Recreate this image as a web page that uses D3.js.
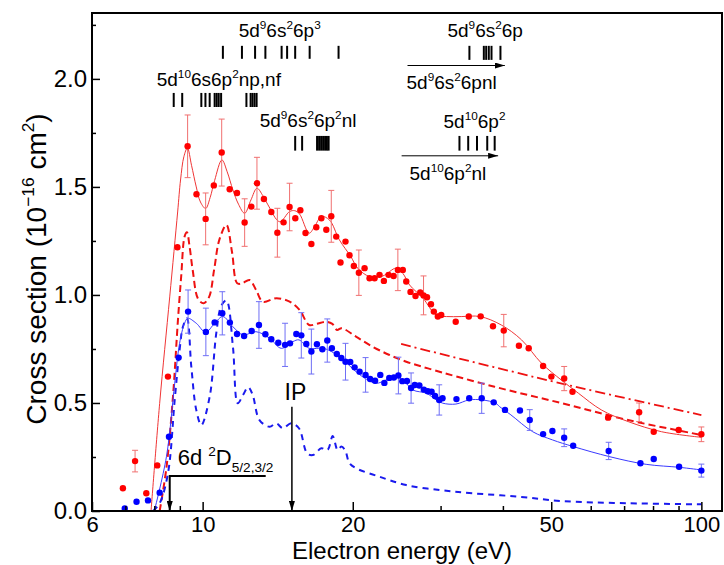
<!DOCTYPE html>
<html>
<head>
<meta charset="utf-8">
<script src="https://cdn.jsdelivr.net/npm/d3@7"></script>
<style>
body { margin: 0; background: #fff; }
svg { display: block; }
text { font-family: "Liberation Sans", Arial, sans-serif; fill: #000; }
</style>
</head>
<body>
<svg id="chart" width="724" height="565"></svg>
<script>
// measured points: [energy eV, cross section, error bar (0 = none)]
const redPts = [
  [6.92,0.105,0],[7.32,0.231,0.05],[7.71,0.082,0],[8.11,0.211,0],[8.52,0.622,0],
  [8.90,1.221,0],[9.33,1.688,0.145],[9.72,1.466,0],[10.14,1.352,0.12],[10.53,1.507,0],
  [10.92,1.659,0.155],[11.33,1.489,0],[11.72,1.472,0],[12.14,1.335,0.11],[12.52,1.409,0],
  [12.85,1.517,0.12],[13.27,1.444,0],[13.73,1.384,0],[14.12,1.288,0.113],[14.53,1.336,0],
  [14.94,1.407,0.11],[15.34,1.355,0],[15.70,1.392,0],[16.08,1.287,0],[16.52,1.236,0],
  [16.90,1.313,0],[17.30,1.355,0],[17.70,1.302,0],[18.11,1.364,0.12],[18.53,1.270,0],
  [18.90,1.150,0],[19.34,1.247,0],[19.70,1.184,0],[20.10,1.134,0],[20.57,1.103,0.105],
  [21.12,1.124,0],[21.61,1.077,0],[22.12,1.077,0],[22.63,1.093,0],[23.09,1.065,0],
  [23.59,1.093,0],[24.15,1.088,0],[24.63,1.116,0.096],[25.20,1.116,0],[25.60,1.062,0],
  [26.11,1.014,0],[26.72,0.995,0],[27.31,1.011,0],[27.73,0.998,0.09],[28.18,0.989,0],
  [28.70,0.957,0],[29.08,0.923,0],[29.62,0.900,0],[30.09,0.907,0],[32.17,0.876,0],
  [34.17,0.900,0],[36.10,0.901,0],[38.21,0.855,0],[40.16,0.835,0.075],[43.07,0.765,0],
  [45.06,0.753,0],[48.16,0.671,0],[50.04,0.622,0],[53.08,0.613,0.056],[55.16,0.552,0],
  [65.01,0.432,0],[75.03,0.457,0.043],[80.26,0.367,0],[90.06,0.375,0],[100,0.355,0.034]
];
const bluePts = [
  [6.98,0.012,0],[7.37,0.043,0],[7.77,0.049,0],[8.20,0.085,0],[8.56,0.344,0],
  [8.95,0.710,0],[9.35,0.923,0.1],[10.15,0.829,0.11],[10.57,0.873,0],[10.95,0.915,0.1],
  [11.34,0.872,0],[11.72,0.819,0],[12.11,0.810,0],[12.54,0.833,0],[12.97,0.861,0.108],
  [13.36,0.818,0],[13.73,0.795,0],[14.18,0.779,0],[14.63,0.769,0.1],[14.97,0.776,0],
  [15.41,0.819,0],[15.77,0.813,0.105],[16.14,0.773,0],[16.52,0.738,0.104],[16.95,0.772,0],
  [17.38,0.749,0],[17.78,0.789,0.1],[18.16,0.753,0],[18.58,0.727,0],[18.97,0.708,0],
  [19.34,0.691,0.085],[19.77,0.690,0],[20.17,0.665,0],[20.64,0.645,0],[21.22,0.630,0.08],
  [21.67,0.611,0],[22.17,0.603,0],[22.71,0.630,0],[23.14,0.593,0],[23.67,0.616,0],
  [24.18,0.618,0],[24.69,0.627,0.085],[25.14,0.601,0],[25.68,0.602,0],[26.18,0.569,0.07],
  [26.63,0.583,0],[27.20,0.581,0],[27.77,0.562,0],[28.28,0.554,0],[28.78,0.552,0],
  [29.24,0.532,0],[29.81,0.514,0.07],[30.27,0.522,0],[32.28,0.518,0],[34.24,0.522,0],
  [36.27,0.522,0.07],[38.34,0.503,0],[40.39,0.468,0],[43.28,0.465,0],[45.28,0.421,0.048],
  [48.16,0.356,0],[50.27,0.370,0],[53.08,0.339,0.041],[55.33,0.302,0],[65.19,0.278,0.04],
  [75.48,0.221,0],[80.26,0.241,0],[90.23,0.205,0],[100,0.187,0.03]
];
// fitted / calculated curves: [energy, cross section]
const redFit = [
  [7.88,0],[8.2,0.498],[8.59,0.991],[8.91,1.384],[9.03,1.532],[9.17,1.64],[9.32,1.68],
  [9.5,1.6],[9.71,1.50],[9.9,1.43],[10.14,1.40],[10.35,1.45],[10.57,1.53],[10.93,1.625],
  [11.2,1.57],[11.5,1.486],[11.8,1.42],[12.14,1.378],[12.5,1.44],[12.85,1.494],[13.2,1.46],
  [13.52,1.417],[14.27,1.339],[14.94,1.386],[15.3,1.39],[15.64,1.375],[16.35,1.286],
  [16.8,1.32],[17.3,1.363],[17.96,1.347],[18.8,1.255],[19.83,1.177],[20.46,1.124],
  [21.61,1.085],[22.98,1.088],[24.43,1.124],[25.2,1.10],[26.0,1.046],[27.66,0.985],
  [29.39,0.907],[30.83,0.90],[33,0.90],[36,0.90],[39.7,0.861],[43.6,0.792],[47.8,0.684],
  [52.4,0.606],[56.7,0.545],[63.0,0.468],[71.3,0.414],[83.2,0.367],[100,0.341]
];
const redCalc = [
  [8.2,0],[8.46,0.2],[8.72,0.53],[8.92,0.88],[9.06,1.09],[9.2,1.27],[9.30,1.29],[9.42,1.22],
  [9.55,1.116],[9.80,0.98],[10.05,0.962],[10.3,0.99],[10.55,1.12],[10.8,1.255],[11.16,1.324],
  [11.45,1.2],[11.73,1.054],[12.0,1.054],[12.42,1.069],[12.8,1.023],[13.2,0.969],[14.07,0.985],
  [14.94,0.969],[15.64,0.931],[16.35,0.861],[16.9,0.866],[17.7,0.876],[18.2,0.866],[18.6,0.838],
  [19.0,0.846],[20.3,0.807],[21.9,0.761],[23.7,0.722],[25.6,0.691],[28.3,0.660],[38.5,0.575],
  [52.5,0.499],[71.3,0.421],[100,0.352]
];
const redCalcHigh = [[25,0.773],[52,0.592],[100,0.444]];
const blueFit = [
  [8.0,0],[8.46,0.251],[8.79,0.591],[8.99,0.776],[9.2,0.869],[9.34,0.892],[9.71,0.869],
  [10.14,0.827],[10.57,0.869],[10.98,0.9],[11.5,0.853],[12.05,0.815],[12.79,0.830],
  [13.62,0.80],[14.38,0.753],[15.17,0.784],[15.6,0.792],[16.35,0.753],[17.5,0.753],
  [18.8,0.714],[20.3,0.645],[21.3,0.610],[22.3,0.591],[23.3,0.606],[24.4,0.622],[25.4,0.599],
  [26.4,0.560],[28.1,0.545],[29.4,0.514],[30.3,0.499],[32.2,0.495],[34.2,0.514],[36.4,0.514],
  [38.7,0.499],[39.4,0.483],[41.5,0.445],[45.9,0.367],[50.3,0.329],[55.4,0.298],[65.6,0.251],
  [77.5,0.216],[90.5,0.202],[100,0.190]
];
const blueCalc = [
  [7.95,0],[8.2,0.036],[8.52,0.174],[8.79,0.514],[8.99,0.745],[9.13,0.853],[9.30,0.892],
  [9.49,0.668],[9.71,0.468],[9.94,0.398],[10.33,0.529],[10.65,0.823],[10.9,0.95],[11.16,0.974],
  [11.5,0.761],[11.76,0.499],[12.05,0.537],[12.34,0.573],[12.6,0.537],[13.0,0.421],[13.62,0.390],
  [14.05,0.406],[14.48,0.383],[15.05,0.406],[15.6,0.383],[16.2,0.267],[16.63,0.259],[17.3,0.290],
  [17.8,0.282],[18.23,0.347],[18.65,0.282],[18.97,0.298],[19.3,0.282],[19.7,0.221],[20.3,0.198],
  [22.6,0.159],[25.6,0.120],[29.9,0.097],[34.8,0.082],[43.2,0.066],[52.5,0.046],[71,0.036],[100,0.031]
];
// energy levels (eV)
const lv6p3 = [10.98,11.99,12.74,13.36,14.40,14.77,15.33,16.39,18.73];
const lvNpNf = [8.75,9.10,9.94,10.13,10.33,10.57,10.67,10.77,10.89,12.24,12.48,12.59,12.71,12.83];
const lv6p2nl = [15.33,15.83,16.96,17.12,17.28,17.44,17.6,17.75,17.89];
const lv6s26p = [34.27,36.63,37.03,37.48,37.95,39.55];
const lv6p2 = [32.73,34.08,35.49,37.21,38.51];
const ipEnergy = 15.1, d6Energy = 8.59;
const xMajor = [6,10,20,50,100], xMinor = [7,8,9,30,40,60,70,80,90];
const yMajor = [0,0.5,1,1.5,2], yMinor = [0.25,0.75,1.25,1.75,2.25];

const svg = d3.select("#chart");
const x = d3.scaleLog().domain([6,110]).range([92,722]);
const y = d3.scaleLinear().domain([0,2.305]).range([511,13]);

const RED = "#ff0000", BLUE = "#0000ff";

// arrowhead
svg.append("defs").append("marker")
  .attr("id","ah").attr("viewBox","0 0 10 6").attr("refX",10).attr("refY",3)
  .attr("markerWidth",10).attr("markerHeight",6).attr("markerUnits","userSpaceOnUse")
  .attr("orient","auto")
  .append("path").attr("d","M0,0L10,3L0,6Z").attr("fill","#000");

const plot = svg.append("g");

let line = d3.line().x(d => x(d[0])).y(d => y(d[1])).curve(d3.curveCatmullRom.alpha(0.5));

// curves
plot.append("path").datum(redCalc).attr("fill","none").attr("stroke","#ee1111")
  .attr("stroke-width",2).attr("stroke-dasharray","7,4").attr("d",line);
plot.append("path").datum(redCalcHigh).attr("fill","none").attr("stroke","#ee1111")
  .attr("stroke-width",1.8).attr("stroke-dasharray","10,4,2,4").attr("d",line);
plot.append("path").datum(blueCalc).attr("fill","none").attr("stroke","#1a1aee")
  .attr("stroke-width",2).attr("stroke-dasharray","6,5").attr("d",line);
plot.append("path").datum(redFit).attr("fill","none").attr("stroke","#f03535")
  .attr("stroke-width",1).attr("d",line);
plot.append("path").datum(blueFit).attr("fill","none").attr("stroke","#3a3aff")
  .attr("stroke-width",1).attr("d",line);

// error bars + points
let drawSeries = (data, col, errCol) => {
  let g = plot.append("g");
  let eb = g.selectAll("g.eb").data(data.filter(d => d[2] > 0)).enter().append("g")
    .attr("stroke", errCol).attr("stroke-width",1);
  eb.append("line").attr("x1",d=>x(d[0])).attr("x2",d=>x(d[0]))
    .attr("y1",d=>y(d[1]-d[2])).attr("y2",d=>y(d[1]+d[2]));
  eb.append("line").attr("x1",d=>x(d[0])-3).attr("x2",d=>x(d[0])+3)
    .attr("y1",d=>y(d[1]-d[2])).attr("y2",d=>y(d[1]-d[2]));
  eb.append("line").attr("x1",d=>x(d[0])-3).attr("x2",d=>x(d[0])+3)
    .attr("y1",d=>y(d[1]+d[2])).attr("y2",d=>y(d[1]+d[2]));
  g.selectAll("circle").data(data).enter().append("circle")
    .attr("cx",d=>x(d[0])).attr("cy",d=>y(d[1])).attr("r",3.2).attr("fill",col);
};
drawSeries(redPts, RED, "#f07070");
drawSeries(bluePts, BLUE, "#6f6ff5");

// axes
let fmtX = d3.format("d");
svg.append("g").attr("transform","translate(0,511)")
  .call(d3.axisBottom(x).tickValues(xMajor).tickSize(-9).tickPadding(5).tickFormat(fmtX))
  .call(g => g.select(".domain").remove())
  .call(g => g.selectAll("text").attr("font-size",22).attr("font-family",null));
svg.append("g").attr("transform","translate(0,511)")
  .call(d3.axisBottom(x).tickValues(xMinor).tickSize(-5).tickFormat(""))
  .call(g => g.select(".domain").remove());
svg.append("g").attr("transform","translate(92,0)")
  .call(d3.axisLeft(y).tickValues(yMajor).tickSize(-8).tickPadding(5).tickFormat(d3.format(".1f")))
  .call(g => g.select(".domain").remove())
  .call(g => g.selectAll("text").attr("font-size",24).attr("font-family",null));
svg.append("g").attr("transform","translate(92,0)")
  .call(d3.axisLeft(y).tickValues(yMinor).tickSize(-4).tickFormat(""))
  .call(g => g.select(".domain").remove());
svg.selectAll(".tick line").attr("stroke","#000").attr("stroke-width",1.5);

svg.append("rect").attr("x",92).attr("y",13).attr("width",630).attr("height",498)
  .attr("fill","none").attr("stroke","#000").attr("stroke-width",2);

// rich text helper: parts = strings or {sup:".."} / {sub:".."}
let rich = (px, py, parts, size, anchor) => {
  let t = svg.append("text").attr("x",px).attr("y",py).attr("font-size",size)
    .attr("text-anchor", anchor || "start");
  let shift = 0;
  parts.forEach(p => {
    let s = t.append("tspan");
    if (typeof p === "string") {
      s.text(p).attr("dy", -shift); shift = 0;
    } else if (p.sup) {
      let d = -size*0.42;
      s.text(p.sup).attr("font-size", size*0.62).attr("dy", d - shift); shift = d;
    } else {
      let d = size*0.3;
      s.text(p.sub).attr("font-size", size*0.62).attr("dy", d - shift); shift = d;
    }
  });
  return t;
};

// level ticks
let levels = (arr, v0, v1) => {
  svg.append("g").selectAll("line").data(arr).enter().append("line")
    .attr("x1",d=>x(d)).attr("x2",d=>x(d)).attr("y1",y(v0)).attr("y2",y(v1))
    .attr("stroke","#000").attr("stroke-width",2);
};
levels(lv6p3, 2.153, 2.093);
levels(lvNpNf, 1.935, 1.870);
levels(lv6p2nl, 1.736, 1.668);
levels(lv6s26p, 2.153, 2.088);
levels(lv6p2, 1.736, 1.668);

const AF = 19;
rich(x(11.81), y(2.194), ["5d",{sup:"9"},"6s",{sup:"2"},"6p",{sup:"3"}], AF);
rich(x(8.09), y(1.968), ["5d",{sup:"10"},"6s6p",{sup:"2"},"np,nf"], AF);
rich(x(13.01), y(1.779), ["5d",{sup:"9"},"6s",{sup:"2"},"6p",{sup:"2"},"nl"], AF);
rich(x(30.97), y(2.193), ["5d",{sup:"9"},"6s",{sup:"2"},"6p"], AF);
rich(x(25.63), y(1.952), ["5d",{sup:"9"},"6s",{sup:"2"},"6pnl"], AF);
rich(x(30.41), y(1.772), ["5d",{sup:"10"},"6p",{sup:"2"}], AF);
rich(x(25.99), y(1.532), ["5d",{sup:"10"},"6p",{sup:"2"},"nl"], AF);

// continuum arrows
svg.append("line").attr("x1",x(25.75)).attr("x2",x(40.36)).attr("y1",y(2.062)).attr("y2",y(2.062))
  .attr("stroke","#000").attr("stroke-width",1).attr("marker-end","url(#ah)");
svg.append("line").attr("x1",x(25.06)).attr("x2",x(39.13)).attr("y1",y(1.644)).attr("y2",y(1.644))
  .attr("stroke","#000").attr("stroke-width",1).attr("marker-end","url(#ah)");

// IP and 6d arrows
svg.append("line").attr("x1",x(ipEnergy)).attr("x2",x(ipEnergy)).attr("y1",y(0.483)).attr("y2",y(0))
  .attr("stroke","#000").attr("stroke-width",1.5).attr("marker-end","url(#ah)");
rich(x(14.6), y(0.514), ["IP"], 23);
svg.append("path")
  .attr("d", `M${x(13.38)},${y(0.162)}H${x(d6Energy)}V${y(0)}`)
  .attr("fill","none").attr("stroke","#000").attr("stroke-width",2).attr("marker-end","url(#ah)");
rich(x(8.91), y(0.213), ["6d ",{sup:"2"},"D",{sub:"5/2,3/2"}], 22);

// axis titles
rich(402, 559, ["Electron energy (eV)"], 24, "middle");
let yt = rich(0, 0, ["Cross section (10",{sup:"\u221216"}," cm",{sup:"2"},")"], 28, "middle");
yt.attr("transform","translate(46,269) rotate(-90)");
</script>
</body>
</html>
